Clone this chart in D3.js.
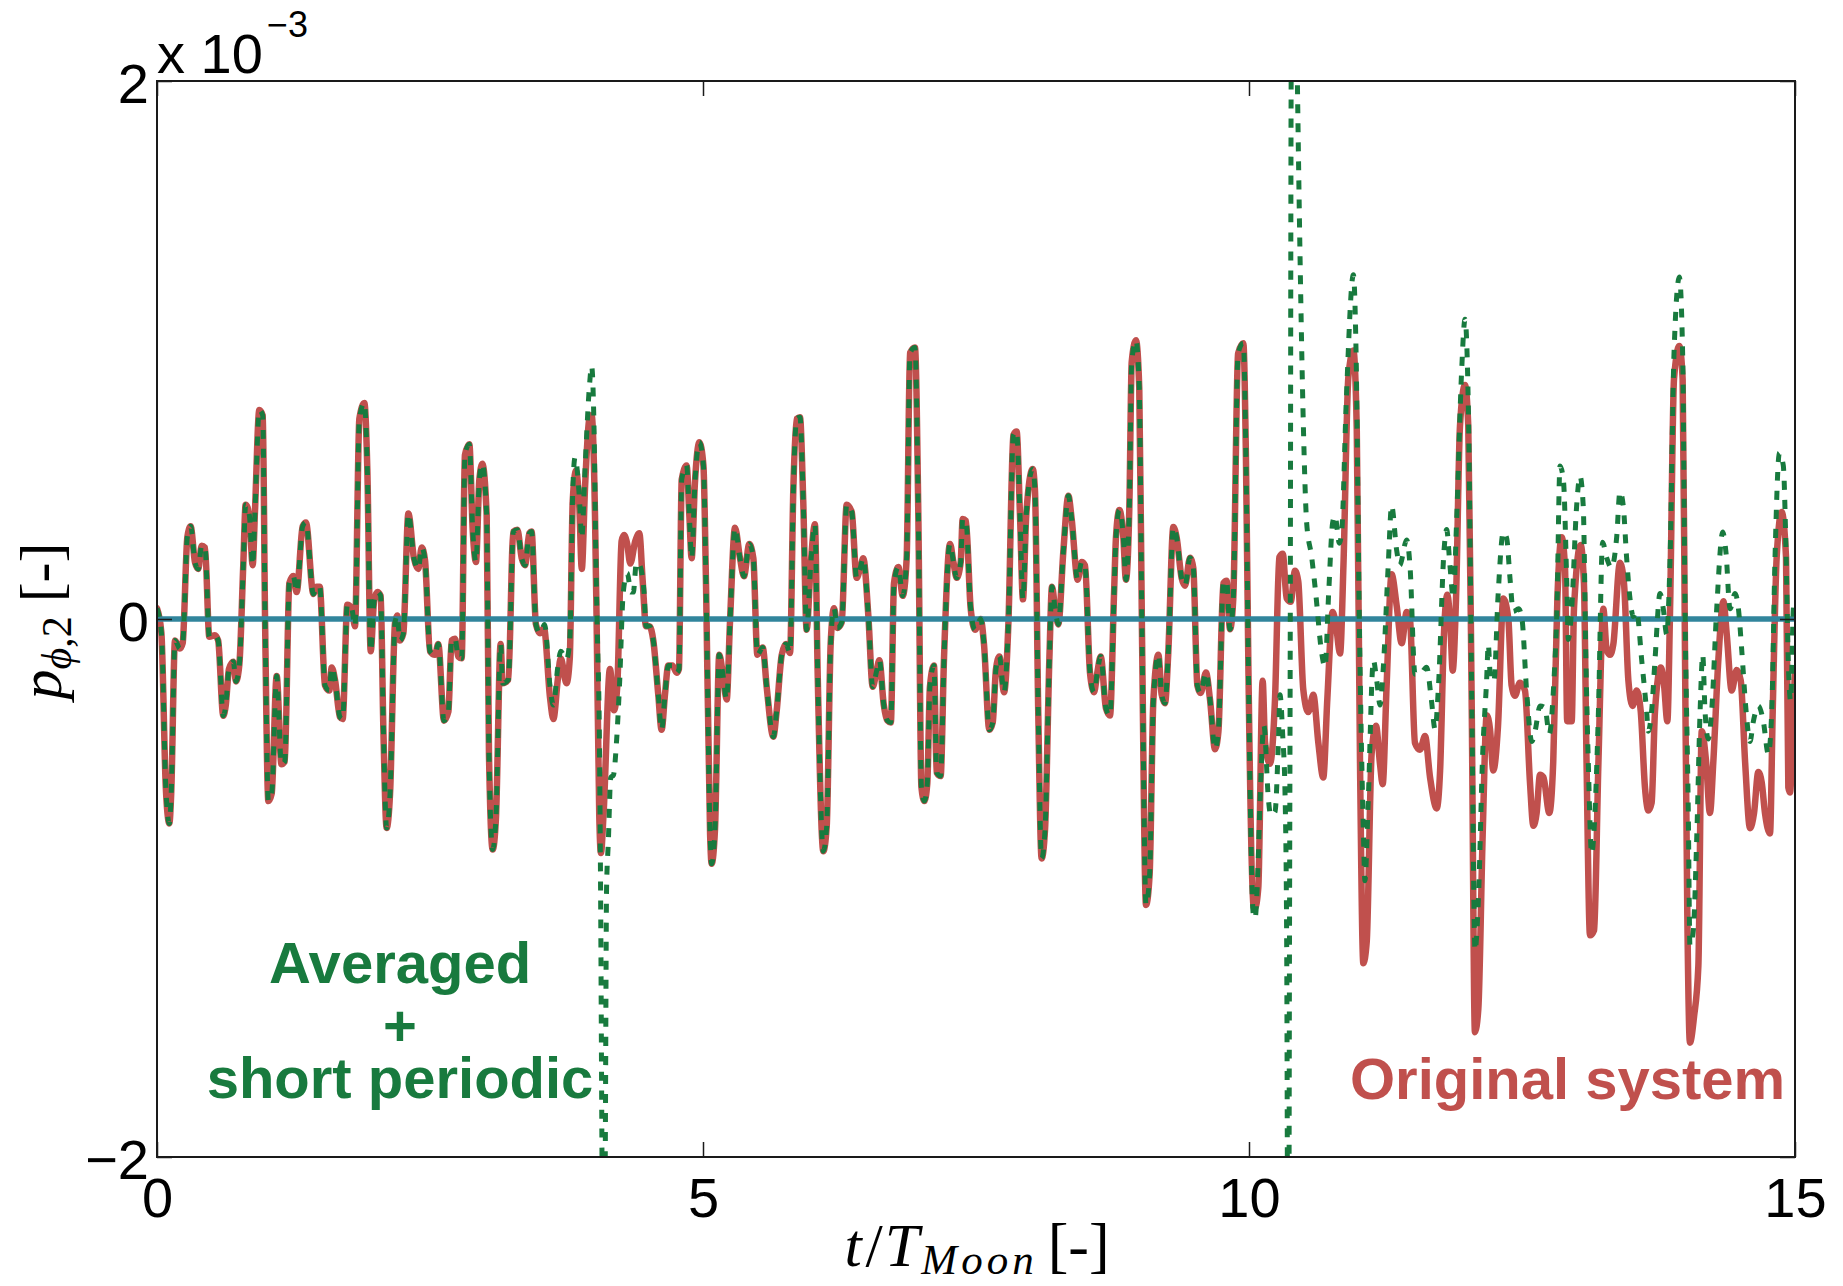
<!DOCTYPE html>
<html>
<head>
<meta charset="utf-8">
<script src="https://cdn.jsdelivr.net/npm/d3@7"></script>
<style>
  html, body { margin: 0; padding: 0; background: #ffffff; }
  svg { display: block; }
</style>
</head>
<body>
<svg id="chart" width="1843" height="1286"></svg>
<script>
// ---------------- data ----------------
// x: t / T_Moon ; y: p_{phi,2} in units of 1e-3

// Original system (red, solid)
const origT = [0.000,0.04,0.08,0.113,0.13,0.165,0.21,0.235,0.278,0.308,0.348,0.378,0.409,0.44,0.479,0.53,0.56,0.607,0.63,0.659,0.699,0.723,0.754,0.79,0.812,0.846,0.876,0.897,0.937,0.968,0.99,1.02,1.05,1.096,1.14,1.17,1.212,1.248,1.279,1.334,1.364,1.432,1.462,1.49,1.538,1.578,1.6,1.63,1.676,1.70,1.743,1.783,1.813,1.853,1.899,1.926,1.957,1.988,2.018,2.048,2.073,2.103,2.134,2.18,2.2,2.225,2.256,2.302,2.353,2.393,2.424,2.454,2.5,2.546,2.576,2.628,2.668,2.698,2.729,2.759,2.79,2.82,2.86,2.891,2.921,2.952,2.979,3.019,3.04,3.074,3.104,3.147,3.165,3.217,3.263,3.30,3.34,3.37,3.41,3.43,3.47,3.507,3.543,3.599,3.63,3.67,3.697,3.75,3.78,3.807,3.837,3.868,3.89,3.92,3.959,3.98,4.011,4.026,4.05,4.065,4.09,4.148,4.185,4.215,4.255,4.277,4.306,4.334,4.38,4.417,4.447,4.478,4.51,4.545,4.59,4.621,4.652,4.682,4.72,4.759,4.78,4.805,4.85,4.875,4.896,4.926,4.967,5.004,5.028,5.065,5.079,5.11,5.149,5.18,5.217,5.247,5.293,5.339,5.375,5.424,5.461,5.498,5.547,5.583,5.644,5.674,5.721,5.76,5.797,5.827,5.858,5.888,5.918,5.949,5.986,6.025,6.05,6.102,6.133,6.169,6.2,6.23,6.27,6.316,6.362,6.407,6.438,6.468,6.514,6.554,6.59,6.615,6.655,6.689,6.72,6.749,6.789,6.829,6.865,6.896,6.941,6.972,7.0,7.027,7.054,7.078,7.115,7.14,7.176,7.207,7.262,7.293,7.323,7.36,7.378,7.408,7.451,7.491,7.543,7.573,7.622,7.653,7.683,7.714,7.757,7.797,7.842,7.872,7.903,7.93,7.96,8.019,8.04,8.07,8.101,8.132,8.172,8.196,8.224,8.254,8.3,8.346,8.376,8.431,8.468,8.498,8.544,8.581,8.611,8.642,8.69,8.727,8.764,8.782,8.813,8.849,8.873,8.904,8.926,8.965,8.995,9.02,9.057,9.09,9.124,9.17,9.2,9.231,9.26,9.307,9.337,9.383,9.414,9.46,9.49,9.527,9.557,9.606,9.643,9.689,9.72,9.765,9.795,9.826,9.856,9.90,9.948,9.972,9.995,10.04,10.055,10.085,10.125,10.147,10.192,10.238,10.278,10.309,10.345,10.382,10.421,10.451,10.497,10.543,10.589,10.635,10.68,10.717,10.766,10.797,10.834,10.865,10.91,10.956,10.987,11.017,11.047,11.078,11.123,11.163,11.2,11.224,11.26,11.306,11.352,11.398,11.444,11.474,11.52,11.566,11.612,11.658,11.719,11.75,11.786,11.816,11.847,11.865,11.896,11.932,11.978,12.008,12.039,12.069,12.1,12.14,12.177,12.207,12.237,12.28,12.329,12.375,12.405,12.436,12.48,12.527,12.573,12.604,12.634,12.665,12.696,12.75,12.786,12.824,12.863,12.894,12.914,12.955,12.976,13.037,13.067,13.091,13.123,13.16,13.2,13.245,13.275,13.306,13.336,13.397,13.434,13.474,13.513,13.550,13.587,13.626,13.657,13.687,13.718,13.771,13.801,13.831,13.856,13.892,13.941,13.971,13.993,14.014,14.038,14.075,14.115,14.146,14.186,14.221,14.252,14.298,14.344,14.375,14.42,14.466,14.503,14.543,14.588,14.625,14.664,14.695,14.725,14.771,14.796,14.832,14.878,14.918,14.939,14.954,14.985,15.0];
const origV = [0.04,-0.05,-0.62,-0.76,-0.65,-0.08,-0.11,-0.09,0.305,0.345,0.21,0.186,0.272,0.265,-0.066,-0.06,-0.08,-0.36,-0.32,-0.186,-0.159,-0.232,-0.17,0.2,0.425,0.385,0.2,0.398,0.777,0.757,-0.013,-0.677,-0.65,-0.212,-0.54,-0.53,0.133,0.16,0.1,0.345,0.359,0.093,0.12,0.12,-0.246,-0.266,-0.18,-0.226,-0.365,-0.372,0.053,0.04,-0.027,0.744,0.803,0.558,-0.12,0.066,0.1,0.086,-0.41,-0.777,-0.65,-0.013,0.013,-0.08,-0.053,0.392,0.226,0.186,0.266,0.22,-0.12,-0.133,-0.093,-0.378,-0.345,-0.08,-0.073,-0.14,-0.146,0.61,0.65,0.332,0.212,0.518,0.577,0.385,-0.5,-0.857,-0.74,-0.093,-0.239,-0.226,0.325,0.332,0.226,0.2,0.319,0.325,-0.02,-0.053,-0.033,-0.292,-0.372,-0.226,-0.146,-0.239,-0.146,0.438,0.551,0.412,0.186,0.491,0.744,0.757,0.385,-0.013,-0.73,-0.87,-0.72,-0.186,-0.339,-0.25,0.29,0.312,0.279,0.206,0.29,0.319,0.146,-0.027,-0.027,-0.08,-0.28,-0.412,-0.28,-0.173,-0.173,-0.2,-0.186,0.518,0.571,0.385,0.226,0.505,0.657,0.57,0.12,-0.8,-0.91,-0.78,-0.133,-0.2,-0.299,-0.013,0.339,0.226,0.159,0.279,0.226,-0.133,-0.106,-0.252,-0.438,-0.345,-0.133,-0.093,-0.126,0.478,0.744,0.75,0.438,-0.04,0.2,0.352,-0.2,-0.863,-0.77,-0.093,0.04,-0.033,-0.013,0.425,0.398,0.153,0.186,0.226,0.013,-0.252,-0.193,-0.153,-0.318,-0.378,-0.385,0.133,0.193,0.086,0.226,0.989,1.009,0.385,-0.624,-0.677,-0.611,-0.252,-0.173,-0.571,-0.584,-0.146,0.279,0.212,0.153,0.212,0.372,0.365,0.04,-0.04,0.0,-0.093,-0.412,-0.385,-0.186,-0.139,-0.272,-0.013,0.684,0.697,0.385,0.073,0.385,0.558,0.478,-0.345,-0.89,-0.784,-0.146,0.12,0.04,-0.02,0.252,0.458,0.372,0.146,0.212,0.199,-0.2,-0.272,-0.199,-0.139,-0.332,-0.359,0.093,0.305,0.405,0.305,0.146,0.412,0.956,1.036,0.86,-0.05,-1.063,-0.95,-0.304,-0.133,-0.28,-0.313,-0.133,0.342,0.304,0.152,0.124,0.228,0.19,-0.247,-0.275,-0.199,-0.3,-0.484,-0.418,0.133,0.142,-0.038,0.076,0.987,1.025,0.6,-0.2,-1.07,-1.075,-1.0,-0.23,-0.46,-0.538,-0.3,0.23,0.243,0.077,0.064,0.179,0.14,-0.262,-0.346,-0.282,-0.46,-0.589,-0.3,0.026,-0.025,-0.128,0.2,0.9,0.998,0.7,-0.55,-1.28,-1.2,-0.5,-0.397,-0.54,-0.614,-0.25,0.166,0.05,-0.09,0.026,0.0,-0.461,-0.486,-0.435,-0.589,-0.704,-0.563,-0.05,0.09,-0.05,-0.192,0.077,0.717,0.87,0.717,-0.3,-1.536,-1.45,-0.8,-0.358,-0.41,-0.563,-0.4,0.076,0.0,-0.247,-0.285,-0.237,-0.266,-0.607,-0.769,-0.721,-0.579,-0.588,-0.721,-0.531,0.076,0.304,0.19,-0.38,-0.38,0.038,0.275,0.133,-0.531,-1.176,-1.157,-0.531,0.038,-0.114,-0.133,-0.095,0.209,0.133,-0.228,-0.323,-0.266,-0.342,-0.626,-0.712,-0.683,-0.342,-0.18,-0.247,-0.38,0.038,0.892,1.015,0.892,-0.152,-1.101,-1.575,-1.48,-1.29,-0.417,-0.531,-0.721,-0.531,-0.152,0.066,-0.057,-0.266,-0.19,-0.228,-0.531,-0.778,-0.721,-0.569,-0.607,-0.721,-0.797,-0.342,0.228,0.398,0.228,-0.626,-0.645,-0.342,-0.19];

// Averaged + short periodic (green, dotted): where it departs from the original system
const avgSpT1 = [3.507,3.55,3.599,3.63,3.67,3.697,3.75,3.78,3.807,3.828,3.868,3.889,3.92,3.959,3.98,4.00,4.02,4.035,4.05,4.062,4.075,4.09,4.105,4.117,4.133,4.155,4.18,4.209,4.235,4.27,4.307,4.34,4.362,4.39,4.42,4.46,4.478];
const avgSpV1 = [-0.053,-0.02,-0.25,-0.32,-0.18,-0.12,-0.15,-0.08,0.47,0.60,0.45,0.30,0.56,0.86,0.94,0.75,0.2,-0.1,-0.4,-1.0,-2.0,-2.8,-2.0,-1.0,-0.83,-0.59,-0.58,-0.45,-0.25,0.1,0.17,0.1,0.1,0.21,0.2,0.1,-0.027];
const avgSpT2 = [9.948,9.972,9.995,10.04,10.055,10.08,10.1,10.137,10.177,10.199,10.238,10.269,10.284,10.309,10.33,10.345,10.36,10.372,10.378,10.386,10.41,10.443,10.467,10.498,10.528,10.574,10.61,10.666,10.696,10.73,10.766,10.788,10.827,10.85,10.89,10.956,10.98,11.01,11.045,11.062,11.09,11.139,11.17,11.2,11.23,11.275,11.306,11.352,11.38,11.444,11.474,11.52,11.566,11.627,11.67,11.704,11.735,11.786,11.81,11.84,11.871,11.90,11.947,11.978,12.008,12.04,12.07,12.1,12.14,12.176,12.191,12.213,12.244,12.28,12.329,12.36,12.39,12.42,12.469,12.5,12.542,12.589,12.62,12.665,12.71,12.75,12.79,12.82,12.848,12.88,12.91,12.924,12.955,13.0,13.031,13.061,13.085,13.107,13.138,13.168,13.2,13.238,13.275,13.32,13.367,13.397,13.428,13.458,13.489,13.519,13.55,13.596,13.641,13.657,13.687,13.718,13.764,13.794,13.825,13.856,13.892,13.941,13.971,13.993,14.023,14.038,14.069,14.1,14.131,14.155,14.176,14.206,14.237,14.283,14.338,14.368,14.405,14.451,14.482,14.512,14.552,14.588,14.619,14.664,14.71,14.756,14.787,14.817,14.857,14.893,14.917,14.938,14.96,14.985,15.0];
const avgSpV2 = [1.025,0.6,-0.2,-1.1,-1.114,-0.95,-0.69,-0.397,-0.666,-0.73,-0.717,-0.46,-0.282,-0.435,-0.65,-1.2,-3.0,-1.0,0.0,2.0,3.0,2.0,1.357,0.717,0.358,0.23,0.1,-0.128,-0.179,0.1,0.358,0.384,0.282,0.33,0.8,1.28,1.0,0.0,-0.75,-0.973,-0.7,-0.154,-0.23,-0.32,-0.18,0.2,0.422,0.256,0.2,0.294,0.2,-0.205,-0.205,-0.179,-0.3,-0.41,-0.25,0.256,0.333,0.2,0.077,0.35,0.92,1.114,0.8,-0.3,-1.233,-1.05,-0.5,-0.228,-0.095,-0.228,-0.228,0.08,0.323,0.3,0.152,0.028,0.038,0.0,-0.266,-0.455,-0.417,-0.323,-0.33,-0.427,-0.247,0.038,0.569,0.512,0.133,-0.076,0.038,0.418,0.531,0.418,-0.152,-0.531,-0.873,-0.721,-0.342,0.285,0.228,0.19,0.304,0.474,0.418,0.228,0.076,0.009,0.028,-0.152,-0.342,-0.417,-0.342,-0.152,0.095,0.038,-0.057,0.228,0.987,1.271,0.987,0.038,-0.721,-1.214,-1.157,-0.816,-0.342,-0.133,-0.342,-0.446,-0.342,0.038,0.323,0.247,0.038,0.095,0.038,-0.114,-0.342,-0.455,-0.38,-0.323,-0.38,-0.503,-0.342,0.228,0.617,0.57,0.266,-0.152,-0.304,0.038,0.076];

// Averaged system (blue, solid)
const avgT = [0, 15];
const avgV = [0, 0];

// Axes ticks
const xTicks = [0, 5, 10, 15];
const xTickLabels = ["0", "5", "10", "15"];
const yTicks = [-2, 0, 2];
const yTickLabels = ["\u22122", "0", "2"];

// ---------------- drawing ----------------
(function () {
const svg = d3.select("#chart");
const W = 1843, H = 1286;
const pL = 157, pR = 1795, pT = 81, pB = 1157;

svg.append("rect").attr("width", W).attr("height", H).attr("fill", "#ffffff");

const x = d3.scaleLinear().domain([0, 15]).range([pL, pR]);
const y = d3.scaleLinear().domain([-2, 2]).range([pB, pT]);

const defs = svg.append("defs");
defs.append("clipPath").attr("id", "plotClip")
  .append("rect").attr("x", pL).attr("y", pT)
  .attr("width", pR - pL).attr("height", pB - pT);

// build series
const redPts = origT.map((t, i) => [t, origV[i]]);
let greenPts = [];
origT.forEach((t, i) => {
  if (t < avgSpT1[0] || (t > avgSpT1[avgSpT1.length - 1] && t < avgSpT2[0])) greenPts.push([t, origV[i]]);
});
avgSpT1.forEach((t, i) => greenPts.push([t, avgSpV1[i]]));
avgSpT2.forEach((t, i) => greenPts.push([t, avgSpV2[i]]));
greenPts.sort((a, b) => a[0] - b[0]);
const bluePts = avgT.map((t, i) => [t, avgV[i]]);

const line = d3.line().x(d => x(d[0])).y(d => y(d[1])).curve(d3.curveMonotoneX);

const plot = svg.append("g").attr("clip-path", "url(#plotClip)");

plot.append("path").datum(redPts)
  .attr("d", line).attr("fill", "none")
  .attr("stroke", "#c0504d").attr("stroke-width", 6.5)
  .attr("stroke-linejoin", "round").attr("stroke-linecap", "round");

plot.append("path").datum(bluePts)
  .attr("d", line).attr("fill", "none")
  .attr("stroke", "#31859c").attr("stroke-width", 5.5);

plot.append("path").datum(greenPts)
  .attr("d", line).attr("fill", "none")
  .attr("stroke", "#187a3e").attr("stroke-width", 5)
  .attr("stroke-dasharray", "9,10")
  .attr("stroke-linejoin", "round");

// axes
const tickLen = 15;
const fontAx = "'Liberation Sans', Arial, Helvetica, sans-serif";

const xAxisB = d3.axisBottom(x).tickValues(xTicks)
  .tickFormat((d, i) => xTickLabels[i]).tickSizeInner(-tickLen).tickSizeOuter(0).tickPadding(20);
const gxb = svg.append("g").attr("transform", `translate(0,${pB})`).call(xAxisB);
const xAxisT = d3.axisTop(x).tickValues(xTicks).tickFormat("").tickSizeInner(-tickLen).tickSizeOuter(0);
const gxt = svg.append("g").attr("transform", `translate(0,${pT})`).call(xAxisT);

const yAxisL = d3.axisLeft(y).tickValues(yTicks)
  .tickFormat((d, i) => yTickLabels[i]).tickSizeInner(-tickLen).tickSizeOuter(0).tickPadding(8);
const gyl = svg.append("g").attr("transform", `translate(${pL},0)`).call(yAxisL);
const yAxisR = d3.axisRight(y).tickValues(yTicks).tickFormat("").tickSizeInner(-tickLen).tickSizeOuter(0);
const gyr = svg.append("g").attr("transform", `translate(${pR},0)`).call(yAxisR);

[gxb, gxt, gyl, gyr].forEach(g => {
  g.select(".domain").remove();
  g.selectAll(".tick line").attr("stroke", "#1a1a1a").attr("stroke-width", 1.5);
  g.selectAll(".tick text").attr("fill", "#000").attr("font-family", fontAx).attr("font-size", 56);
});
gyl.selectAll(".tick text").attr("dy", "0.38em");

// frame
svg.append("rect").attr("x", pL).attr("y", pT)
  .attr("width", pR - pL).attr("height", pB - pT)
  .attr("fill", "none").attr("stroke", "#1a1a1a").attr("stroke-width", 2);

// exponent label
const expo = svg.append("text").attr("x", pL).attr("y", 73)
  .attr("font-family", fontAx).attr("font-size", 56).attr("fill", "#000");
expo.append("tspan").text("x 10");
expo.append("tspan").attr("font-size", 36).attr("dy", -36).attr("dx", 4).text("\u22123");

// axis titles
const serif = "'Liberation Serif', 'Times New Roman', serif";
const xl = svg.append("text").attr("x", 977).attr("y", 1266)
  .attr("text-anchor", "middle").attr("font-family", serif).attr("font-size", 62).attr("fill", "#000");
xl.append("tspan").attr("font-style", "italic").text("t");
xl.append("tspan").attr("dx", 4).text("/");
xl.append("tspan").attr("font-style", "italic").attr("dx", 2).text("T");
xl.append("tspan").attr("font-style", "italic").attr("font-size", 43).attr("dy", 8).attr("dx", 2).attr("letter-spacing", 4).text("Moon");
xl.append("tspan").attr("dy", -8).attr("dx", 10).text("[-]");

const yl = svg.append("text")
  .attr("transform", `translate(61,621) rotate(-90)`)
  .attr("text-anchor", "middle").attr("font-family", serif).attr("font-size", 60).attr("fill", "#000");
yl.append("tspan").attr("font-style", "italic").text("p");
yl.append("tspan").attr("font-style", "italic").attr("font-size", 42).attr("dy", 10).text("\u03d5");
yl.append("tspan").attr("font-size", 42).text(",2");
yl.append("tspan").attr("dy", -10).attr("dx", 14).text("[-]");

// annotations (one multi-line text block)
const boldF = "'Liberation Sans', Arial, Helvetica, sans-serif";
const greenTxt = ["Averaged", "+", "short periodic"];
const greenBase = [983, 1046, 1098];
const gt = svg.append("text").attr("text-anchor", "middle").attr("font-family", boldF)
  .attr("font-weight", "bold").attr("font-size", 58).attr("fill", "#187a3e");
greenTxt.forEach((s, i) => {
  gt.append("tspan").attr("x", 400).attr("y", greenBase[i]).text(s);
});
svg.append("text").attr("x", 1350).attr("y", 1099)
  .attr("font-family", boldF).attr("font-weight", "bold")
  .attr("font-size", 58).attr("fill", "#c0504d").text("Original system");
})();
</script>
</body>
</html>
